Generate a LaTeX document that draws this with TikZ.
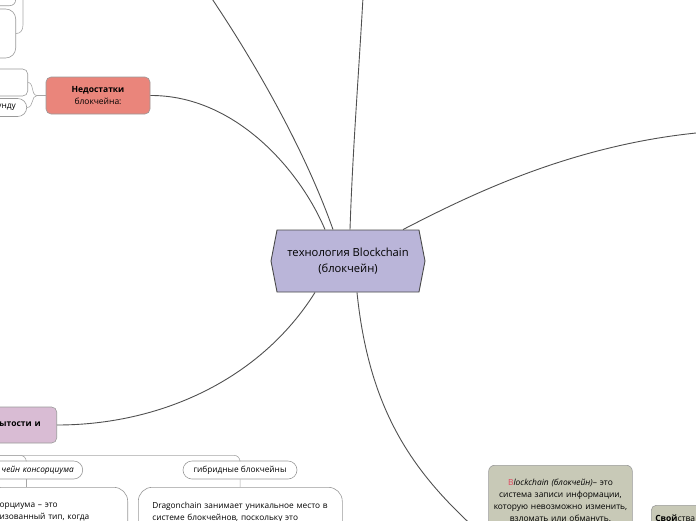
\documentclass[tikz,border=0pt]{standalone}
\usepackage{fontspec}
\setmainfont{Open Sans}
\usetikzlibrary{shapes.symbols, positioning, calc}
\definecolor{hubfill}{HTML}{BAB5D9}
\definecolor{hubline}{HTML}{4A4A4A}
\definecolor{minus}{HTML}{EA857B}
\definecolor{plus}{HTML}{D9BCD4}
\definecolor{sage}{HTML}{C8C9B7}
\definecolor{initial}{HTML}{E2475F}
\definecolor{wire}{HTML}{505050}
\definecolor{twig}{HTML}{A6A6A6}
\definecolor{rim}{HTML}{9A9A9A}

\begin{document}
\begin{tikzpicture}[
    x=1pt, y=-1pt,
    hub/.style={signal, signal to=east and west, signal pointer angle=158, minimum width=154pt, minimum height=62pt, inner sep=0pt, fill=hubfill, draw=hubline, line width=0.9pt, align=center, font=\fontsize{11.2}{15.5}\selectfont},
    topic/.style={rectangle, rounded corners=5pt, draw=rim, line width=0.6pt, align=center, font=\fontsize{8.5}{11.5}\selectfont},
    pill/.style={rectangle, rounded corners=9pt, draw=rim, line width=0.6pt, fill=white, minimum height=18pt, inner ysep=0pt, font=\fontsize{8.3}{10}\selectfont},
    card/.style={rectangle, rounded corners=14pt, draw=rim, line width=0.6pt, fill=white, align=left, anchor=north west, minimum height=50pt, inner xsep=14pt, inner ysep=1.5pt, font=\fontsize{8.3}{12}\selectfont},
    wire/.style={draw=wire, line width=0.9pt},
    twig/.style={draw=twig, line width=0.6pt},
]
\useasboundingbox (0,0) rectangle (696,520);
\clip (0,0) rectangle (696,520);

\node[hub] (hub) at (348,261) {технология Blockchain\\(блокчейн)};

% Drawbacks
\node[topic, fill=minus, minimum width=104pt, minimum height=37pt] (minus) at (98,95.5) {\textbf{Недостатки}\\блокчейна:};
\node[topic, anchor=east, minimum width=50pt, minimum height=27pt] (lb1) at (28,82.5) {};
\node[pill, anchor=east, text width=30pt, align=right, inner xsep=11pt] (lb2) at (27,107.5) {унду};
\node[topic, anchor=south east, rounded corners=6pt, minimum width=50pt, minimum height=30pt] (ub1) at (16,6) {};
\node[topic, anchor=east, rounded corners=10pt, minimum width=50pt, minimum height=49pt] (ub2) at (16,33.5) {};
\coordinate (fork) at (37,95.5);
\coordinate (upin) at (23,-20);

\draw[twig] (minus.west) -- (fork);
\draw[twig] (fork) .. controls (31,95.5) and (34,82.5) .. (lb1.east);
\draw[twig] (fork) .. controls (31,95.5) and (34,107.5) .. (lb2.east);
\draw[twig] (upin) -- ++(0,45) .. controls +(0,6) and +(4,0) .. (ub2.east);

% Openness
\node[topic, fill=plus, anchor=east, minimum height=36pt, text width=60pt, align=right, inner xsep=16pt] (plus) at (57,425) {\textbf{рытости и}};
\node[pill, anchor=east, text width=95pt, align=right, inner xsep=9pt] (kons) at (83,470) {\textit{чейн консорциума}};
\node[pill, minimum width=114pt, inner xsep=9pt] (hyb) at (240,470) {гибридные блокчейны};
\node[card, anchor=north east, text width=116pt, inner xsep=12pt] (konsbox) at (128,487) {орциума – это\\изованный тип, когда};
\node[card, text width=176pt] (dragon) at (138,487) {Dragonchain занимает уникальное место в\\системе блокчейнов, поскольку это};

\draw[twig, rounded corners=6pt] ([xshift=6pt]plus.south west) -- ++(0,12) -| (hyb.north);
\draw[twig, rounded corners=6pt] ([xshift=6pt]plus.south west) -- ++(0,12) -| (kons.north);
\draw[twig] (kons.south) -- (kons.south |- konsbox.north);
\draw[twig] (hyb) -- (dragon);

% Definition
\node[topic, fill=sage, anchor=north, text width=137pt, inner ysep=14pt, rounded corners=6pt, font=\fontsize{8.4}{11.8}\selectfont] (defn) at (560.5,465) {\textcolor{initial}{B}\textit{lockchain (блокчейн)}– это\\система записи информации,\\которую невозможно изменить,\\взломать или обмануть.};
\node[topic, fill=sage, anchor=north west, align=left, text width=60pt, minimum height=26pt, inner xsep=4pt] (props) at (651,505) {\textbf{Свой}ства};

% Connection
\coordinate (offTL) at (185,-40);
\coordinate (offT) at (365,-40);
\coordinate (offR) at (720,131);
\coordinate (offB) at (488,540);

\draw[wire] (minus.east) .. controls (235,95) and (300,170) .. ($(hub.north)+(-23,0)$);
\draw[wire] ($(hub.north)+(-15,0)$) .. controls (305,150) and (250,50) .. (offTL);
\draw[wire] ($(hub.north)+(2,0)$) .. controls (353,140) and (360,60) .. (offT);
\draw[wire] ($(hub.north)+(55,0)$) .. controls (470,195) and (580,140) .. (offR);
\draw[wire] ($(hub.south)+(9,0)$) .. controls (370,420) and (420,480) .. (offB);
\draw[wire] ($(hub.south)+(-33,0)$) .. controls (260,380) and (160,425) .. (plus.east);

\end{tikzpicture}
\end{document}
